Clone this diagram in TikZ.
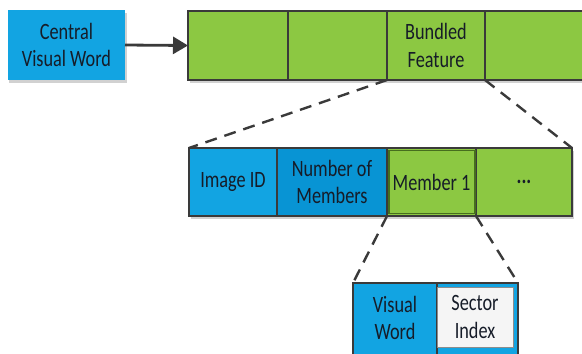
\documentclass[tikz,border=0pt]{standalone}
\usepackage{fontspec}
\setmainfont{Carlito}[FakeStretch=0.78]
\usetikzlibrary{shadows,arrows.meta}
\definecolor{cblue}{RGB}{18,164,226}
\definecolor{cblueD}{RGB}{8,148,212}
\definecolor{cgreen}{RGB}{140,200,66}
\definecolor{cgreenD}{RGB}{70,110,30}
\definecolor{edge}{RGB}{58,58,58}
\definecolor{ink}{RGB}{22,28,40}
\begin{document}
\begin{tikzpicture}[x=1bp,y=-1bp,
  plain/.style={rectangle, inner sep=0pt, outer sep=0pt, align=center, text=ink,
    font=\fontsize{23.5}{27.5}\selectfont},
  box/.style={plain,
    drop shadow={shadow xshift=1.5bp, shadow yshift=-3bp, fill=black, opacity=0.18}},
  cellg/.style={box, fill=cgreen, draw=edge, line width=1.6bp},
  cellb/.style={box, fill=cblue, draw=edge, line width=1.6bp},
  dashline/.style={draw=edge, line width=2.4bp, dash pattern=on 12bp off 8bp},
  link/.style={draw=edge, line width=2.8bp, -{Triangle[length=15bp,width=17bp]}}]
\useasboundingbox (0,0) rectangle (582,353);

% source word
\node[box, fill=cblue, minimum width=117bp, minimum height=70bp] (cvw) at (66.5,45) {Central\\Visual Word};

% feature sequence
\node[cellg, minimum width=100bp, minimum height=69bp] (f1) at (238,45.5) {};
\node[cellg, minimum width=99bp, minimum height=69bp] (f2) at (337.5,45.5) {};
\node[cellg, minimum width=98bp, minimum height=69bp] (f3) at (436,45.5) {Bundled\\Feature};
\node[cellg, minimum width=100bp, minimum height=69bp] (f4) at (535,45.5) {};

\draw[link] (cvw.east) -- (f1.west);

% bundled feature layout
\node[cellb, minimum width=88bp, minimum height=68bp] (m1) at (233,182) {Image ID};
\node[cellb, fill=cblueD, minimum width=110bp, minimum height=68bp] (m2) at (332,182) {Number of\\Members};
\node[cellg, minimum width=89bp, minimum height=68bp] (m3) at (431.5,182) {Member 1};
\node[cellg, minimum width=96bp, minimum height=68bp] (m4) at (524,182) {\textbf{...}};
\draw[cgreenD, line width=1.2bp] ([shift={(2bp,-2.5bp)}]m3.north west) rectangle ([shift={(-1bp,2.5bp)}]m3.south east);

% member layout
\node[plain, fill=cblue, draw=edge, line width=1.6bp,
  minimum width=165bp, minimum height=80bp, anchor=north west] (wbase) at (353,283) {};
\node[plain, minimum width=84bp, minimum height=70bp] (vw) at (395,318) {Visual\\Word};
\draw[edge, line width=1.6bp] (vw.north east) -- ++(0,-80bp);
\node[plain, fill=white!96!black, draw=black!45, line width=1bp,
  minimum width=76bp, minimum height=60bp] (si) at (475,317) {Sector\\Index};

% zoom-in connectors
\draw[dashline] (f3.south west) -- (m1.north west);
\draw[dashline] (f3.south east) -- (m4.north east);
\draw[dashline] (m3.south west) -- (wbase.north west);
\draw[dashline] (m3.south east) -- (wbase.north east);
\end{tikzpicture}
\end{document}
